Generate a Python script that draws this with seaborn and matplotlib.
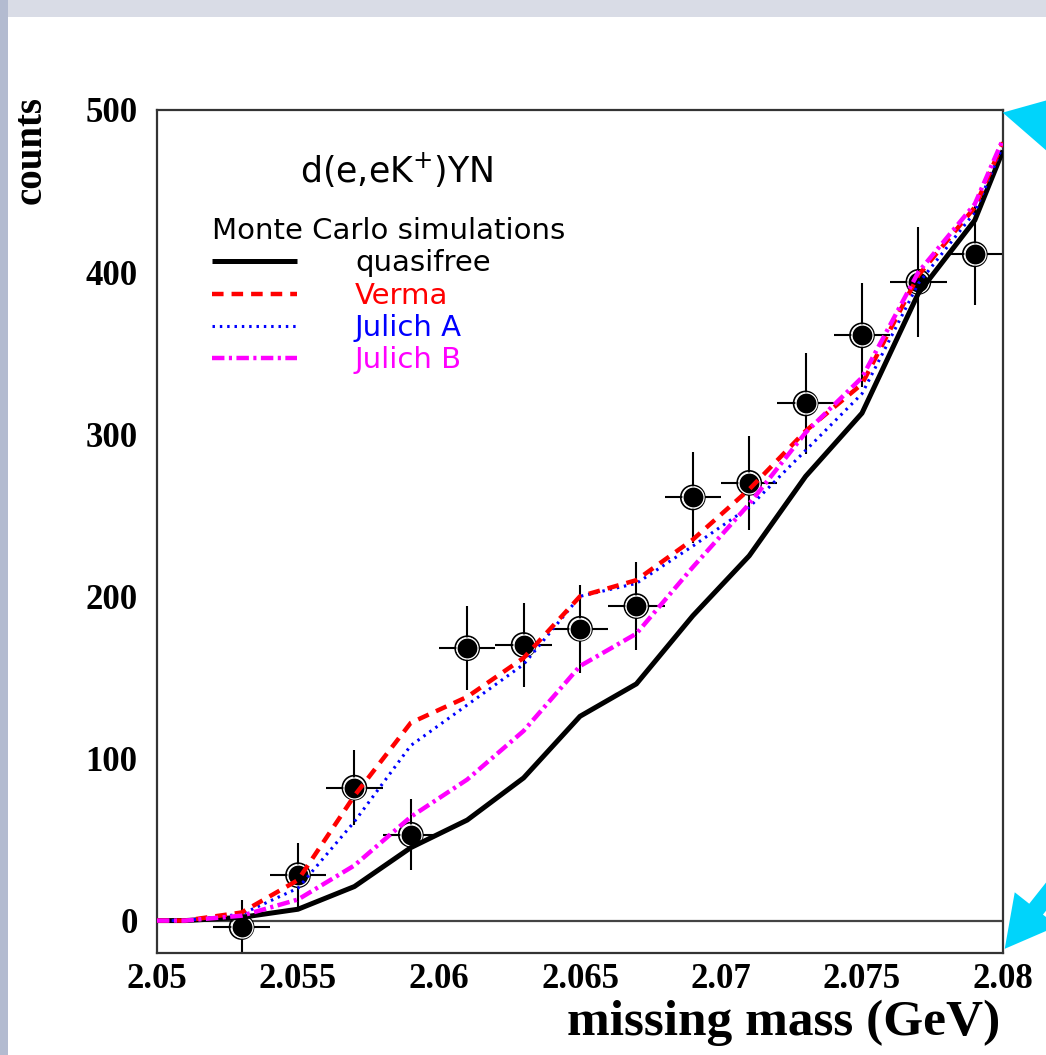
import numpy as np
import pandas as pd
import seaborn as sns
import matplotlib
matplotlib.use("Agg")
import matplotlib.pyplot as plt
from matplotlib.patches import Rectangle

# ---------------- data ----------------
# measured points (bin centres, counts, errors)
data_x = [2.053, 2.055, 2.057, 2.059, 2.061, 2.063, 2.065, 2.067, 2.069, 2.071, 2.073, 2.075, 2.077, 2.079]
data_y = [-4, 28, 82, 53, 168, 170, 180, 194, 261, 270, 319, 361, 394, 411]
data_yerr = [17, 20, 23, 22, 26, 26, 27, 27, 28, 29, 31, 32, 34, 31]
data_xerr = [0.001] * len(data_x)

# Monte Carlo simulation curves
sim_x = [2.050, 2.051, 2.053, 2.055, 2.057, 2.059, 2.061, 2.063, 2.065, 2.067, 2.069, 2.071, 2.073, 2.075, 2.077, 2.079, 2.080]
quasifree = [0, 0, 2, 7, 21, 45, 62, 88, 126, 146, 188, 225, 274, 313, 387, 432, 475]
verma = [0, 0, 5, 25, 77, 122, 138, 162, 200, 210, 235, 266, 302, 331, 398, 440, 480]
julich_a = [0, 0, 4, 20, 61, 108, 133, 158, 200, 208, 231, 255, 290, 325, 393, 437, 478]
julich_b = [0, 0, 3, 13, 34, 64, 87, 117, 157, 177, 218, 257, 301, 335, 400, 442, 482]

x_ticks = [2.05, 2.051, 2.055, 2.06, 2.065, 2.07, 2.075, 2.08]
x_ticklabels = ["2.05", "", "2.055", "2.06", "2.065", "2.07", "2.075", "2.08"]
y_ticks = [0, 100, 200, 300, 400, 500]

# ---------------- style ----------------
sns.set_style("white")
plt.rcParams["font.family"] = ["DejaVu Sans"]
plt.rcParams["mathtext.fontset"] = "dejavusans"
plt.rcParams["text.color"] = "black"
plt.rcParams["lines.solid_capstyle"] = "butt"

W, H = 1046, 1055
fig = plt.figure(figsize=(W / 100, H / 100), dpi=100)
fig.patch.set_facecolor("white")

# screenshot background strips
fig.patches.append(Rectangle((0, 1 - 17 / H), 1, 17 / H, transform=fig.transFigure,
                             facecolor="#d9dce6", edgecolor="none", zorder=-10))
fig.patches.append(Rectangle((0, 0), 8 / W, 1, transform=fig.transFigure,
                             facecolor="#b3bbd0", edgecolor="none", zorder=-10))

ax_l, ax_r, ax_t, ax_b = 157, 1003, 110, 953
ax = fig.add_axes([ax_l / W, 1 - ax_b / H, (ax_r - ax_l) / W, (ax_b - ax_t) / H])
ax.set_facecolor("white")

# data points with error bars
ax.errorbar(data_x, data_y, xerr=data_xerr, yerr=data_yerr, fmt="none",
            ecolor="black", elinewidth=1.5, capsize=0, zorder=2)
sns.scatterplot(x=data_x, y=data_y, ax=ax, s=300, marker="o", facecolor="none",
                edgecolor="black", linewidth=1.2, zorder=3, legend=False)
sns.scatterplot(x=data_x, y=data_y, ax=ax, s=230, marker="o", color="black",
                edgecolor="white", linewidth=0.9, zorder=3, legend=False)

# simulation curves
sns.lineplot(x=sim_x, y=quasifree, ax=ax, color="black", linewidth=3.6,
             label="quasifree", zorder=4)
sns.lineplot(x=sim_x, y=julich_a, ax=ax, color="#0000ff", linewidth=2.2,
             linestyle=(0, (0.8, 1.6)), label="Julich A", zorder=5)
sns.lineplot(x=sim_x, y=verma, ax=ax, color="#ff0000", linewidth=3.2,
             linestyle=(0, (2.6, 1.8)), label="Verma", zorder=6)
sns.lineplot(x=sim_x, y=julich_b, ax=ax, color="#ff00ff", linewidth=3.2,
             linestyle=(0, (2.8, 1.0, 0.7, 1.0)), label="Julich B", zorder=7)

ax.axhline(0, color="#444444", linewidth=1.6, zorder=1)

# axes limits / ticks
ax.set_xlim(2.05, 2.08)
ax.set_ylim(-20, 500)
ax.set_xticks(x_ticks)
ax.set_xticklabels(x_ticklabels)
ax.set_xticks([2.0525, 2.0575, 2.0625, 2.0675, 2.0725, 2.0775], minor=True)
ax.set_yticks(y_ticks)
ax.set_yticks([v for v in range(20, 500, 20) if v % 100], minor=True)

for lab in ax.get_xticklabels() + ax.get_yticklabels():
    lab.set_fontfamily("Liberation Serif")
    lab.set_fontweight("bold")
    lab.set_fontsize(25)
    lab.set_color("black")

ax.tick_params(axis="both", which="both", direction="in", color="#222222",
               labelcolor="black", top=False, right=False)
ax.tick_params(axis="x", which="major", length=11, width=1.3, pad=7)
ax.tick_params(axis="x", which="minor", length=6, width=1.3)
ax.tick_params(axis="y", which="major", length=12, width=1.3, pad=14)
ax.tick_params(axis="y", which="minor", length=7, width=1.3)
# long odd tick near the left edge (as in the original)
ax.xaxis.get_major_ticks()[1].tick1line.set_markersize(19)

for sp in ax.spines.values():
    sp.set_visible(True)
    sp.set_color("#333333")
    sp.set_linewidth(1.6)

# axis labels
ax.set_xlabel("missing mass (GeV)", fontfamily="Liberation Serif",
              fontweight="bold", fontsize=37, color="black")
ax.xaxis.set_label_coords(0.997, (ax_b - 1023) / (ax_b - ax_t))
ax.xaxis.label.set_ha("right")
ax.xaxis.label.set_va("center")

ax.set_ylabel("counts", fontfamily="Liberation Serif", fontweight="bold",
              fontsize=28, color="black")
ax.yaxis.set_label_coords((31 - ax_l) / (ax_r - ax_l), (ax_b - 150) / (ax_b - ax_t))
ax.yaxis.label.set_va("center")

# reaction label
ax.text((300 - ax_l) / (ax_r - ax_l), (ax_b - 170) / (ax_b - ax_t), r"d(e,eK$^{+}$)YN",
        transform=ax.transAxes, ha="left", va="center", fontsize=25, color="black")

# legend
handles, labels = ax.get_legend_handles_labels()
order = ["quasifree", "Verma", "Julich A", "Julich B"]
hmap = dict(zip(labels, handles))
leg = ax.legend([hmap[k] for k in order], order, title="Monte Carlo simulations",
                loc="upper left",
                bbox_to_anchor=((212 - ax_l) / (ax_r - ax_l), (ax_b - 217) / (ax_b - ax_t)),
                frameon=False, fontsize=21, title_fontsize=21, handlelength=2.9,
                handletextpad=2.0, labelspacing=0.15, borderpad=0, borderaxespad=0)
leg._legend_box.align = "left"
leg.get_title().set_color("black")
for txt, col in zip(leg.get_texts(), ["black", "#ff0000", "#0000ff", "#ff00ff"]):
    txt.set_color(col)

# cyan pointer arrows of the slide
arrow_kw = dict(arrowstyle="simple,head_length=1.3,head_width=1.4,tail_width=0.45",
                color="#00d4fb", lw=0, mutation_scale=28)
ax.annotate("", xy=(1000 / W, 1 - 112 / H), xycoords="figure fraction",
            xytext=(1080 / W, 1 - 130 / H), textcoords="figure fraction",
            arrowprops=arrow_kw, annotation_clip=False)
ax.annotate("", xy=(1003 / W, 1 - 951 / H), xycoords="figure fraction",
            xytext=(1075 / W, 1 - 860 / H), textcoords="figure fraction",
            arrowprops=arrow_kw, annotation_clip=False)

fig.savefig("out.png", dpi=100, facecolor="white")
